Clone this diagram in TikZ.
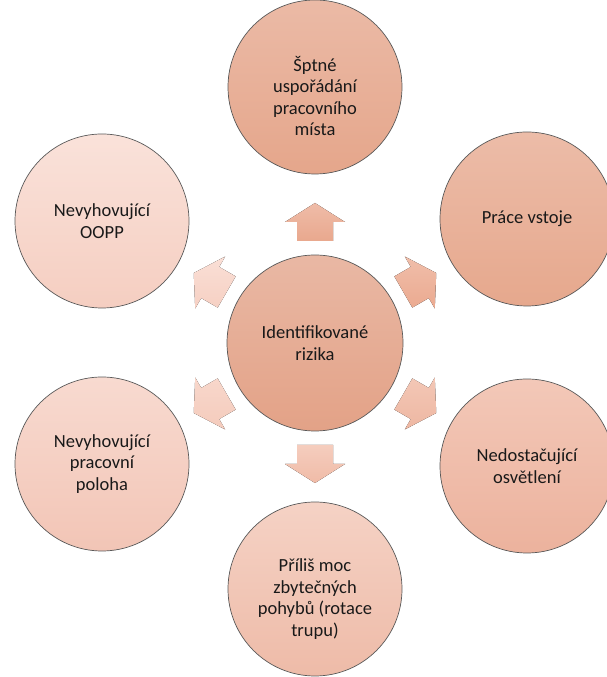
\documentclass[tikz,border=0pt]{standalone}
\usepackage{fontspec}
\setmainfont{Carlito}
\usetikzlibrary{calc}
\definecolor{cAt}{HTML}{E9B8A4}\definecolor{cAb}{HTML}{E3A287}
\definecolor{c1t}{HTML}{EBBAA6}\definecolor{c1b}{HTML}{E5A68B}
\definecolor{c2t}{HTML}{ECBCA8}\definecolor{c2b}{HTML}{E6A88D}
\definecolor{c3t}{HTML}{F3C8B8}\definecolor{c3b}{HTML}{ECB29D}
\definecolor{c4t}{HTML}{F5D2C5}\definecolor{c4b}{HTML}{EEBBA8}
\definecolor{c5t}{HTML}{F8DAD0}\definecolor{c5b}{HTML}{F2C5B6}
\definecolor{c6t}{HTML}{FAE2DA}\definecolor{c6b}{HTML}{F5CEC1}
\definecolor{a1t}{HTML}{EFBCA8}\definecolor{a1b}{HTML}{E9A88E}
\definecolor{a2t}{HTML}{F0BEAA}\definecolor{a2b}{HTML}{EBAA90}
\definecolor{a3t}{HTML}{F3C7B6}\definecolor{a3b}{HTML}{EEB7A2}
\definecolor{a4t}{HTML}{F5CDBE}\definecolor{a4b}{HTML}{F0BBA7}
\definecolor{a5t}{HTML}{F8D7CB}\definecolor{a5b}{HTML}{F4CBBC}
\definecolor{a6t}{HTML}{FADFD6}\definecolor{a6b}{HTML}{F6D0C3}
\newcommand{\pushdown}{\rule{0pt}{33pt}}
\tikzset{
  riskcircle/.style={circle, draw=black!65, line width=0.7pt, minimum size=174pt,
    inner sep=0pt, align=center, font=\fontsize{18.5}{21.5}\selectfont, text=black!90},
}
\begin{document}
\begin{tikzpicture}[x=1pt,y=1pt]
\useasboundingbox (0,0) rectangle (607,677);
\node[riskcircle, top color=cAt, bottom color=cAb, minimum size=176pt] (C) at (315,334) {Identifikované\\rizika};
\node[riskcircle, top color=c1t, bottom color=c1b] (N1) at (315,590) {\pushdown Šptné\\uspořádání\\pracovního\\místa};
\node[riskcircle, top color=c2t, bottom color=c2b] (N2) at (527,458) {Práce vstoje};
\node[riskcircle, top color=c3t, bottom color=c3b] (N3) at (527,211) {Nedostačující\\osvětlení};
\node[riskcircle, top color=c4t, bottom color=c4b] (N4) at (315,88) {\pushdown Příliš moc\\zbytečných\\pohybů (rotace\\trupu)};
\node[riskcircle, top color=c5t, bottom color=c5b] (N5) at (102,213) {Nevyhovující\\pracovní\\poloha};
\node[riskcircle, top color=c6t, bottom color=c6b] (N6) at (102,456) {Nevyhovující\\OOPP};
\foreach \a/\n in {90/1,30/2,-30/3,-90/4,-150/5,150/6}{
  \fill[top color=a\n t, bottom color=a\n b]
    ($(C)+(\a:102)+(\a+90:18)$) -- ($(C)+(\a:121)+(\a+90:18)$) --
    ($(C)+(\a:121)+(\a+90:30)$) -- ($(C)+(\a:140)$) --
    ($(C)+(\a:121)+(\a-90:30)$) -- ($(C)+(\a:121)+(\a-90:18)$) --
    ($(C)+(\a:102)+(\a-90:18)$) -- cycle;
}
\end{tikzpicture}
\end{document}
